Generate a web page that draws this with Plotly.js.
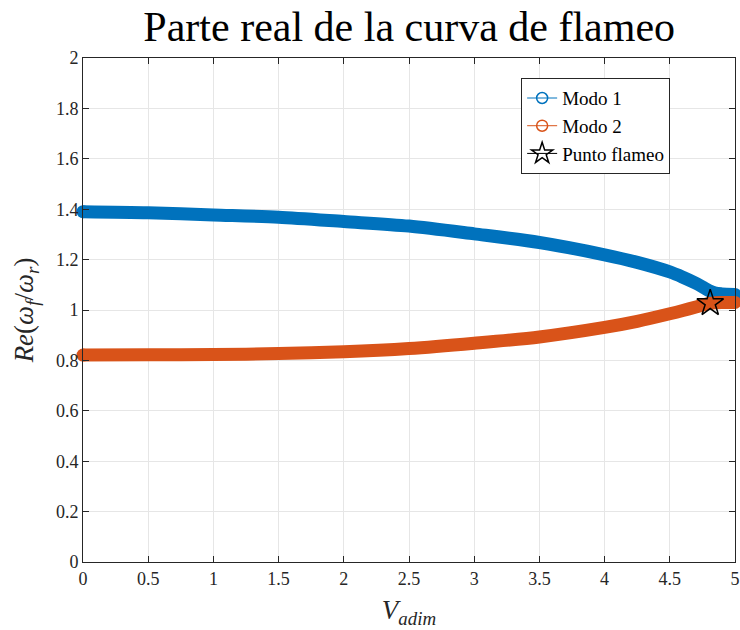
<!DOCTYPE html>
<html>
<head>
<meta charset="utf-8">
<script src="https://cdn.plot.ly/plotly-3.0.1.min.js"></script>
<style>html,body{margin:0;padding:0;background:#fff;}#chart{width:740px;height:630px;}</style>
</head>
<body>
<div id="chart"></div>
<script>
// Values
const vAdim   = [0, 0.5, 1, 1.5, 2, 2.5, 3, 3.5, 4, 4.25, 4.5, 4.6, 4.7, 4.75, 4.8, 4.85, 4.9, 5];
const modo1   = [1.390, 1.386, 1.377, 1.368, 1.351, 1.333, 1.302, 1.268, 1.219, 1.189, 1.151, 1.130, 1.106, 1.092, 1.077, 1.067, 1.064, 1.062];
const modo2   = [0.821, 0.822, 0.823, 0.827, 0.834, 0.847, 0.868, 0.893, 0.931, 0.955, 0.985, 0.998, 1.012, 1.019, 1.026, 1.029, 1.030, 1.030];
const flameoV = [4.81];
const flameoR = [1.027];
const xTicks  = [0, 0.5, 1, 1.5, 2, 2.5, 3, 3.5, 4, 4.5, 5];
const yTicks  = [0, 0.2, 0.4, 0.6, 0.8, 1, 1.2, 1.4, 1.6, 1.8, 2];

const blue = '#0072BD', orange = '#D95319';
const serif = 'Liberation Serif';

const traces = [
  {x: vAdim, y: modo1, mode: 'lines', line: {color: blue, width: 13, shape: 'spline', smoothing: 0.8},
   showlegend: false, cliponaxis: false, hoverinfo: 'skip'},
  {x: [vAdim[0], vAdim[vAdim.length-1]], y: [modo1[0], modo1[modo1.length-1]], mode: 'markers',
   marker: {color: blue, size: 13, symbol: 'circle'}, showlegend: false, cliponaxis: false, hoverinfo: 'skip'},
  {x: vAdim, y: modo2, mode: 'lines', line: {color: orange, width: 13, shape: 'spline', smoothing: 0.8},
   showlegend: false, cliponaxis: false, hoverinfo: 'skip'},
  {x: [vAdim[0], vAdim[vAdim.length-1]], y: [modo2[0], modo2[modo2.length-1]], mode: 'markers',
   marker: {color: orange, size: 13, symbol: 'circle'}, showlegend: false, cliponaxis: false, hoverinfo: 'skip'},
  {x: flameoV, y: flameoR, mode: 'markers', marker: {symbol: 'star-open', size: 20, color: '#000', line: {width: 1.5, color: '#000'}},
   showlegend: false, cliponaxis: false},
  // legend entries
  {x: [null], y: [null], name: 'Modo 1', mode: 'lines+markers', line: {color: blue, width: 1},
   marker: {symbol: 'circle-open', size: 11, color: blue, line: {width: 1.5}}},
  {x: [null], y: [null], name: 'Modo 2', mode: 'lines+markers', line: {color: orange, width: 1},
   marker: {symbol: 'circle-open', size: 11, color: orange, line: {width: 1.5}}},
  {x: [null], y: [null], name: 'Punto flameo', mode: 'lines+markers', line: {color: '#000', width: 1},
   marker: {symbol: 'star-open', size: 17, color: '#000', line: {width: 1.5}}}
];

const axisCommon = () => ({
  showline: true, linecolor: '#262626', linewidth: 1, mirror: 'ticks',
  ticks: 'inside', ticklen: 6, tickcolor: '#262626', tickwidth: 1,
  showgrid: true, gridcolor: '#e6e6e6', gridwidth: 1, zeroline: false,
  tickfont: {family: serif, size: 18, color: '#262626'}
});

const layout = {
  width: 740, height: 630,
  font: {family: serif, size: 18, color: '#262626'},
  margin: {l: 83, r: 5, t: 58, b: 68},
  paper_bgcolor: '#fff', plot_bgcolor: '#fff',
  title: {text: 'Parte real de la curva de flameo', font: {family: serif, size: 42, color: '#000'},
          x: 0.553, xanchor: 'center', y: 0.982, yanchor: 'top'},
  xaxis: Object.assign(axisCommon(), {
    range: [0, 5], tickvals: xTicks, ticktext: xTicks.map(String),
    title: {text: '<i>V</i><sub><i>adim</i></sub>', font: {family: serif, size: 27, color: '#262626'}, standoff: 12}
  }),
  yaxis: Object.assign(axisCommon(), {
    range: [0, 2], tickvals: yTicks, ticktext: yTicks.map(String),
    title: {text: '<i>Re</i>(<i>ω</i><sub><i>f</i></sub>/<i>ω</i><sub><i>r</i></sub>)', font: {family: serif, size: 27, color: '#262626'}, standoff: 14}
  }),
  legend: {x: 0.672, y: 0.96, xanchor: 'left', yanchor: 'top', bgcolor: '#fff',
           bordercolor: '#262626', borderwidth: 1, font: {family: serif, size: 19, color: '#000'},
           tracegroupgap: 0},
  showlegend: true
};

Plotly.newPlot('chart', traces, layout, {displayModeBar: false, staticPlot: true});
</script>
</body>
</html>
